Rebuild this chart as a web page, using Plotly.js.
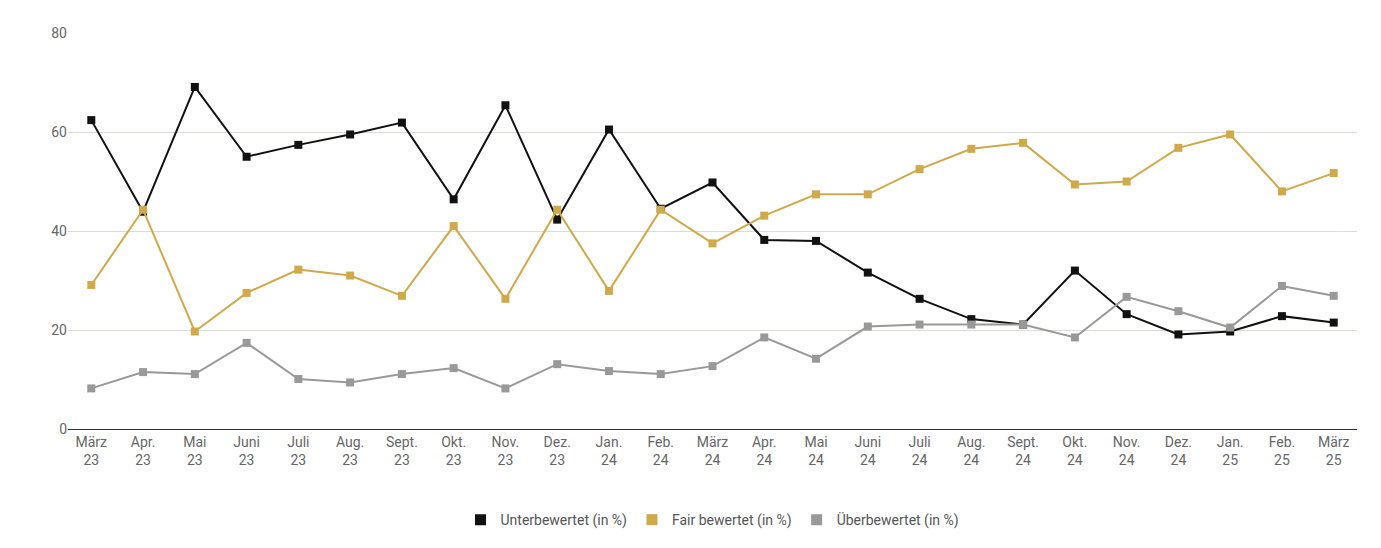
<!DOCTYPE html>
<html>
<head>
<meta charset="utf-8">
<script src="https://cdn.plot.ly/plotly-3.0.1.min.js"></script>
<style>body{margin:0;background:#fff}#chart{width:1381px;height:548px}</style>
</head>
<body>
<div id="chart"></div>
<script>
var months = ['März<br>23','Apr.<br>23','Mai<br>23','Juni<br>23','Juli<br>23','Aug.<br>23','Sept.<br>23','Okt.<br>23','Nov.<br>23','Dez.<br>23',
  'Jan.<br>24','Feb.<br>24','März<br>24','Apr.<br>24','Mai<br>24','Juni<br>24','Juli<br>24','Aug.<br>24','Sept.<br>24','Okt.<br>24','Nov.<br>24','Dez.<br>24',
  'Jan.<br>25','Feb.<br>25','März<br>25'];
var unterbewertet = [62.4,43.9,69.1,55.0,57.4,59.5,61.9,46.4,65.4,42.3,60.5,44.5,49.8,38.2,38.0,31.6,26.3,22.2,21.1,32.0,23.2,19.1,19.7,22.8,21.5];
var fairBewertet = [29.1,44.3,19.7,27.5,32.2,31.0,26.9,41.0,26.3,44.3,27.9,44.3,37.5,43.1,47.4,47.4,52.5,56.6,57.8,49.4,50.0,56.8,59.5,48.0,51.7];
var ueberbewertet = [8.2,11.5,11.1,17.4,10.1,9.4,11.1,12.3,8.2,13.1,11.7,11.1,12.7,18.5,14.2,20.7,21.1,21.1,21.1,18.5,26.7,23.8,20.5,28.9,26.9];

var x = months.map(function(m, i) { return i; });
var series = [
  [unterbewertet, 'Unterbewertet (in %)', '#111111'],
  [fairBewertet, 'Fair bewertet (in %)', '#cfa94a'],
  [ueberbewertet, 'Überbewertet (in %)', '#999999']
];
var data = [];
series.forEach(function(s) {
  data.push({x: x, y: s[0], name: s[1], type: 'scatter', mode: 'lines+markers', showlegend: false,
    line: {color: s[2], width: 2}, marker: {color: s[2], size: 8, symbol: 'square'}});
});
// legend-only entries: square swatch without line
series.forEach(function(s) {
  data.push({x: [null], y: [null], name: s[1], type: 'scatter', mode: 'markers',
    marker: {color: s[2], size: 11, symbol: 'square'}});
});
var layout = {
  width: 1381, height: 548,
  margin: {l: 68, r: 24, t: 33, b: 105},
  paper_bgcolor: '#fff', plot_bgcolor: '#fff',
  font: {family: 'Roboto, sans-serif', size: 14, color: '#666'},
  showlegend: true,
  legend: {orientation: 'h', x: 0.5, xanchor: 'center', y: -0.23, yanchor: 'middle', font: {size: 14, color: '#555'}},
  xaxis: {tickvals: x, ticktext: months, range: [-0.45, 24.45], showgrid: false, zeroline: false,
    showline: true, linecolor: '#333', linewidth: 1, ticks: '', fixedrange: true},
  yaxis: {range: [0, 80], dtick: 20, gridcolor: '#dcdccf', zeroline: false, ticks: '', fixedrange: true}
};
layout.margin.b = 105;
layout.height = 548;
layout.margin.b = 87 + 18 - 18; // plot bottom at y=443
layout.margin.b = 548 - 443;
Plotly.newPlot('chart', data, layout, {displayModeBar: false});
</script>
</body>
</html>
